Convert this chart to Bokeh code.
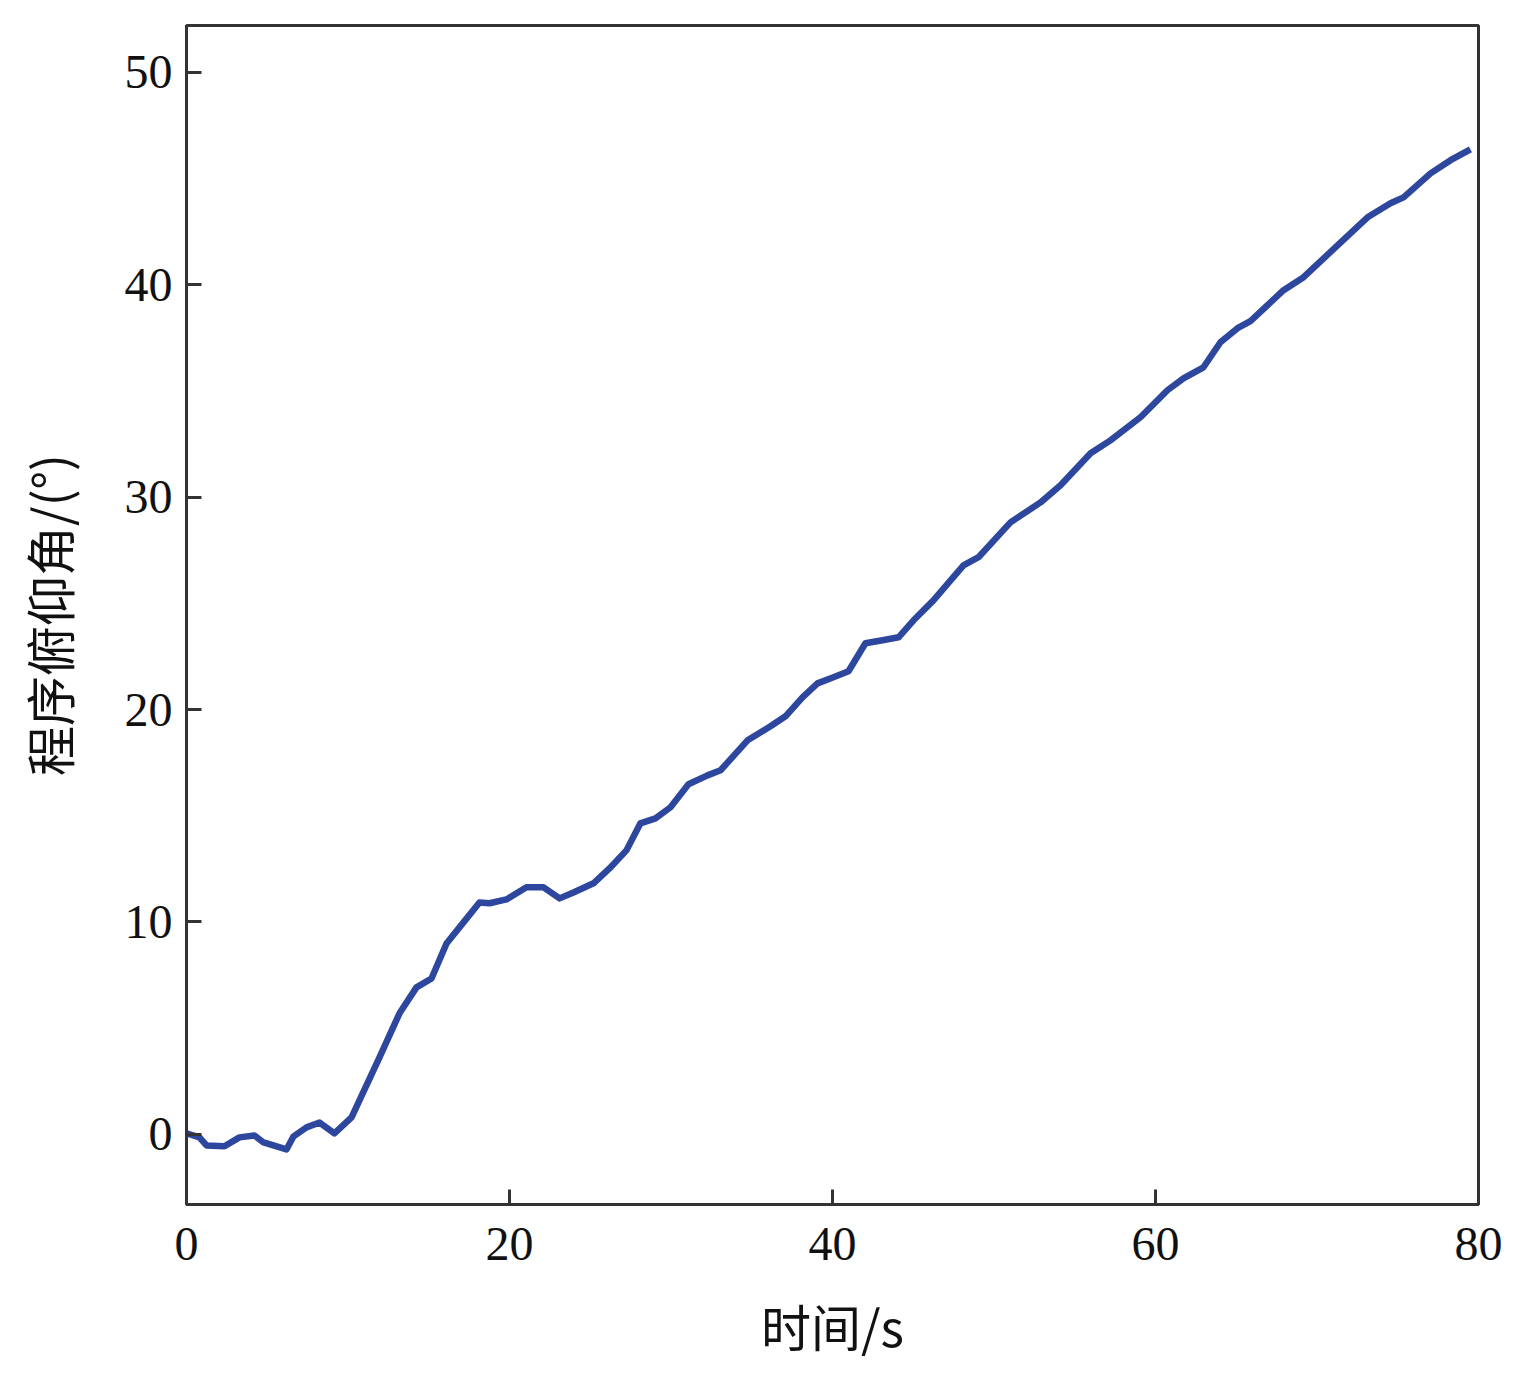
from bokeh.plotting import figure
from bokeh.models import Range1d, FixedTicker, ColumnDataSource
from bokeh.embed import file_html
from bokeh.resources import INLINE

time_s = [0.0, 0.8, 1.24, 2.35, 3.28, 4.21, 4.77, 6.19, 6.63, 7.43, 8.24, 9.16,
          10.22, 10.71, 11.95, 13.19, 14.24, 15.17, 16.1, 17.15, 18.14, 18.76,
          19.81, 21.05, 22.11, 23.1, 23.96, 25.2, 26.19, 27.24, 28.1, 29.04,
          29.97, 31.08, 32.26, 33.07, 34.74, 36.16, 37.09, 38.14, 39.07, 40.06,
          40.99, 42.04, 43.1, 44.09, 45.02, 46.25, 47.31, 48.11, 49.04, 51.02,
          52.88, 54.12, 55.98, 57.21, 59.07, 60.74, 61.73, 62.97, 64.02, 65.08,
          65.88, 67.93, 69.17, 71.27, 73.13, 74.55, 75.36, 77.03, 78.27, 79.5]
pitch_deg = [0.05, -0.14, -0.52, -0.56, -0.14, -0.05, -0.38, -0.71, -0.09, 0.33, 0.56, 0.05,
             0.8, 1.6, 3.63, 5.7, 6.92, 7.34, 8.99, 9.98, 10.92, 10.88,
             11.06, 11.63, 11.63, 11.11, 11.39, 11.82, 12.52, 13.37, 14.64, 14.88,
             15.4, 16.48, 16.9, 17.14, 18.55, 19.21, 19.68, 20.57, 21.23, 21.52,
             21.8, 23.12, 23.26, 23.4, 24.2, 25.14, 26.08, 26.79, 27.17, 28.81,
             29.75, 30.56, 32.06, 32.67, 33.76, 35.03, 35.59, 36.11, 37.29, 37.95,
             38.28, 39.74, 40.35, 41.85, 43.17, 43.83, 44.11, 45.24, 45.86, 46.37]
x_ticks = [0, 20, 40, 60, 80]
y_ticks = [0, 10, 20, 30, 40, 50]
x_label = "时间/s"
y_label = "程序俯仰角/(°)"

src = ColumnDataSource(dict(t=time_s, y=pitch_deg))

p = figure(width=1518, height=1370, output_backend="svg", toolbar_location=None,
           x_range=Range1d(0, 80), y_range=Range1d(-3.3, 52.2),
           min_border_left=186, min_border_top=25, min_border_right=40,
           min_border_bottom=166)
p.line("t", "y", source=src, line_color="#2E479E", line_width=6.5, line_join="round")

p.xgrid.visible = False
p.ygrid.visible = False
p.outline_line_color = "#333333"
p.outline_line_width = 3
p.background_fill_color = "white"
p.border_fill_color = "white"

num_font = "Liberation Serif"
cjk_font = "Noto Sans CJK SC"

for ax in (p.xaxis[0], p.yaxis[0]):
    ax.axis_line_color = "#333333"
    ax.axis_line_width = 3
    ax.major_tick_line_color = "#333333"
    ax.major_tick_line_width = 3
    ax.major_tick_in = 15
    ax.major_tick_out = 0
    ax.minor_tick_line_color = None
    ax.major_label_text_font = num_font
    ax.major_label_text_font_size = "48px"
    ax.major_label_text_color = "#111111"
    ax.axis_label_text_font = cjk_font
    ax.axis_label_text_font_size = "50px"
    ax.axis_label_text_font_style = "normal"
    ax.axis_label_text_color = "#111111"

p.xaxis.ticker = FixedTicker(ticks=x_ticks)
p.yaxis.ticker = FixedTicker(ticks=y_ticks)
p.xaxis.axis_label = x_label
p.yaxis.axis_label = y_label
p.xaxis.major_label_standoff = 23
p.yaxis.major_label_standoff = 14
p.xaxis.axis_label_standoff = 26
p.yaxis.axis_label_standoff = 38

open("out.html", "w").write(file_html(p, INLINE))
